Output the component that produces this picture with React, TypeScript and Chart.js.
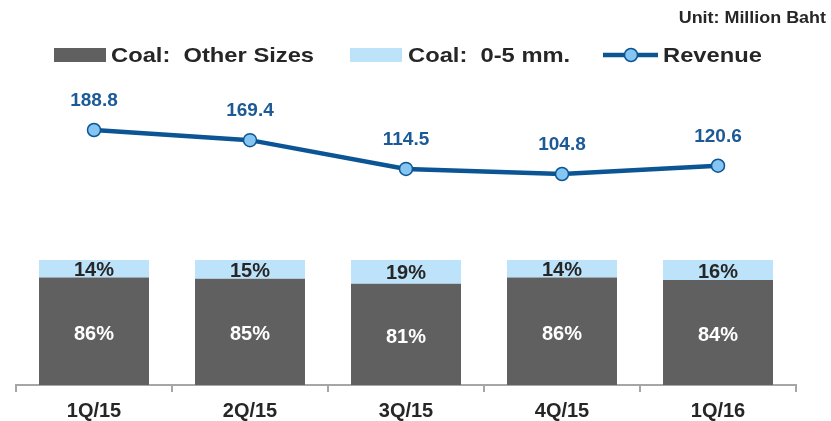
import React, { useEffect, useRef } from "react";
import { Chart, registerables } from "chart.js";

Chart.register(...registerables);

// ---- data ----
const categories = ["1Q/15", "2Q/15", "3Q/15", "4Q/15", "1Q/16"];
const coalOtherSizes = [86, 85, 81, 86, 84];
const coalSmall = [14, 15, 19, 14, 16];
const revenue = [188.8, 169.4, 114.5, 104.8, 120.6];
const seriesNames = ["Coal:  Other Sizes", "Coal:  0-5 mm.", "Revenue"];
const unitLabel = "Unit: Million Baht";

// ---- styles ----
const FONT = '"Liberation Sans", Arial, Helvetica, sans-serif';
const DARK = "#606060";
const LIGHT = "#BDE3FB";
const LINE = "#0B5594";
const POINT = "#85C5F2";
const LABEL_BLUE = "#1B5A96";
const TEXT = "#262626";
const AXIS = "#A6A6A6";

function scaledText(ctx: CanvasRenderingContext2D, text: string, x: number, y: number, sx: number) {
  ctx.save();
  ctx.translate(x, y);
  ctx.scale(sx, 1);
  ctx.fillText(text, 0, 0);
  ctx.restore();
}

const valueLabels = {
  id: "valueLabels",
  afterDatasetsDraw(chart: any) {
    const ctx: CanvasRenderingContext2D = chart.ctx;
    ctx.save();
    ctx.textAlign = "center";
    ctx.textBaseline = "middle";
    chart.data.datasets.forEach((ds: any, di: number) => {
      const meta = chart.getDatasetMeta(di);
      meta.data.forEach((el: any, i: number) => {
        const v = ds.data[i];
        if (meta.type === "bar") {
          ctx.font = `bold 20px ${FONT}`;
          ctx.fillStyle = di === 0 ? "#FFFFFF" : TEXT;
          ctx.fillText(v + "%", el.x, (el.y + el.base) / 2 + (di === 0 ? 3 : 2));
        } else {
          ctx.font = `bold 19px ${FONT}`;
          ctx.fillStyle = LABEL_BLUE;
          ctx.fillText(v.toFixed(1), el.x, el.y - 29);
        }
      });
    });
    ctx.restore();
  },
};

const customLegend = {
  id: "customLegend",
  afterDraw(chart: any) {
    const ctx: CanvasRenderingContext2D = chart.ctx;
    ctx.save();
    ctx.textBaseline = "middle";
    ctx.textAlign = "left";
    const y = 55;
    const sx = 1.13;
    ctx.font = `bold 21px ${FONT}`;
    ctx.fillStyle = DARK;
    ctx.fillRect(54, 48, 52, 14);
    ctx.fillStyle = TEXT;
    scaledText(ctx, seriesNames[0], 111, y + 1, sx);
    ctx.fillStyle = LIGHT;
    ctx.fillRect(350, 48, 52, 14);
    ctx.fillStyle = TEXT;
    scaledText(ctx, seriesNames[1], 408, y + 1, sx);
    ctx.strokeStyle = LINE;
    ctx.lineWidth = 4.5;
    ctx.beginPath();
    ctx.moveTo(603, y);
    ctx.lineTo(658, y);
    ctx.stroke();
    ctx.beginPath();
    ctx.arc(631, y, 6.5, 0, Math.PI * 2);
    ctx.fillStyle = POINT;
    ctx.fill();
    ctx.lineWidth = 1.5;
    ctx.stroke();
    ctx.fillStyle = TEXT;
    scaledText(ctx, seriesNames[2], 663, y + 1, sx);
    ctx.textAlign = "right";
    ctx.font = `bold 16px ${FONT}`;
    scaledText(ctx, unitLabel, 826, 19, 1.12);
    ctx.restore();
  },
};

export default function App() {
  const ref = useRef<HTMLCanvasElement | null>(null);
  useEffect(() => {
    if (!ref.current) return;
    const chart = new Chart(ref.current, {
      type: "bar",
      data: {
        labels: categories,
        datasets: [
          {
            type: "bar",
            label: seriesNames[0],
            data: coalOtherSizes,
            backgroundColor: DARK,
            yAxisID: "y",
            stack: "coal",
            order: 2,
            barPercentage: 0.705,
            categoryPercentage: 1,
          },
          {
            type: "bar",
            label: seriesNames[1],
            data: coalSmall,
            backgroundColor: LIGHT,
            yAxisID: "y",
            stack: "coal",
            order: 2,
            barPercentage: 0.705,
            categoryPercentage: 1,
          },
          {
            type: "line",
            label: seriesNames[2],
            data: revenue,
            yAxisID: "y1",
            borderColor: LINE,
            borderWidth: 4.5,
            pointRadius: 6.5,
            pointBorderWidth: 1.5,
            pointBackgroundColor: POINT,
            pointBorderColor: LINE,
            tension: 0,
            fill: false,
            order: 0,
          } as any,
        ],
      },
      options: {
        responsive: false,
        animation: false,
        layout: { padding: { left: 16, right: 35, top: 80, bottom: 0 } },
        plugins: { legend: { display: false }, tooltip: { enabled: false } },
        scales: {
          x: {
            stacked: true,
            offset: true,
            afterFit: (scale: any) => {
              scale.height = 36;
            },
            grid: {
              offset: true,
              drawOnChartArea: false,
              drawTicks: true,
              tickLength: 7,
              color: AXIS,
              lineWidth: 2,
            },
            border: { display: true, color: AXIS, width: 2 },
            ticks: {
              color: TEXT,
              padding: 9,
              font: { family: FONT, size: 20, weight: "bold", lineHeight: 1 },
            },
          },
          y: { stacked: true, display: false, min: 0, max: 244 },
          y1: { display: false, min: -298, max: 284.25 },
        },
      },
      plugins: [valueLabels, customLegend],
    });
    return () => chart.destroy();
  }, []);
  return (
    <div style={{ position: "fixed", left: 0, top: 0, width: 831, height: 421, background: "#fff" }}>
      <canvas ref={ref} width={831} height={421} style={{ display: "block" }} />
    </div>
  );
}
